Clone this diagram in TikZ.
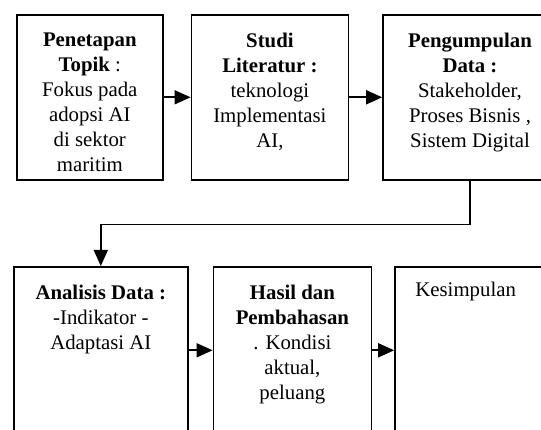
\documentclass[tikz,border=0pt]{standalone}
\usepackage{fontspec}
\setmainfont{Liberation Serif}
\usetikzlibrary{arrows.meta,positioning}

\begin{document}
\begin{tikzpicture}[x=1pt,y=1pt,
  box/.style={draw,line width=1.6pt,minimum height=165pt,inner sep=0pt},
  txt/.style={align=center,inner sep=0pt,anchor=north,font=\fontsize{20.8}{25}\selectfont},
  arr/.style={line width=1.6pt,-{Triangle[length=16pt,width=14pt]}}]
\useasboundingbox (0,0) rectangle (541,-430);
\clip (0,0) rectangle (541,-430);
% top row
\node[box,minimum width=146pt,anchor=north west] (topik) at (16,-14) {};
\node[box,minimum width=157pt,right=27pt of topik] (studi) {};
\node[box,minimum width=174pt,right=33pt of studi] (data) {};
% bottom row
\node[box,minimum width=174pt,minimum height=167pt,anchor=north west] (analisis) at (13,-266) {};
\node[box,minimum width=158pt,minimum height=167pt,right=24pt of analisis] (hasil) {};
\node[box,minimum width=174pt,minimum height=167pt,right=22pt of hasil] (simpul) {};
% texts
\node[txt] (topiktxt) at ([yshift=-18.5pt]topik.north) {\textbf{Penetapan}\\\textbf{Topik} :\\Fokus pada\\adopsi AI\\di sektor\\maritim};
\node[txt] (studitxt) at ([yshift=-18.5pt]studi.north) {\textbf{Studi}\\\textbf{Literatur :}\\teknologi\\Implementasi\\AI,};
\node[txt] (datatxt) at ([yshift=-18.5pt]data.north) {\textbf{Pengumpulan}\\\textbf{Data :}\\Stakeholder,\\Proses Bisnis ,\\Sistem Digital};
\node[txt] (analisistxt) at ([yshift=-19pt]analisis.north) {\textbf{Analisis Data :}\\-Indikator -\\Adaptasi AI};
\node[txt] (hasiltxt) at ([yshift=-19pt]hasil.north) {\textbf{Hasil dan}\\\textbf{Pembahasan}\\. Kondisi\\aktual,\\peluang};
\node[txt,anchor=base west] (simpultxt) at ([xshift=21pt,yshift=-31pt]simpul.north west) {Kesimpulan};
% connectors
\draw[arr] (topik) -- (studi);
\draw[arr] (studi) -- (data);
\draw[arr] (data.south) -- ++(0,-44) -| (analisis.north);
\draw[arr] (analisis) -- (hasil);
\draw[arr] (hasil) -- (simpul);
\end{tikzpicture}
\end{document}
